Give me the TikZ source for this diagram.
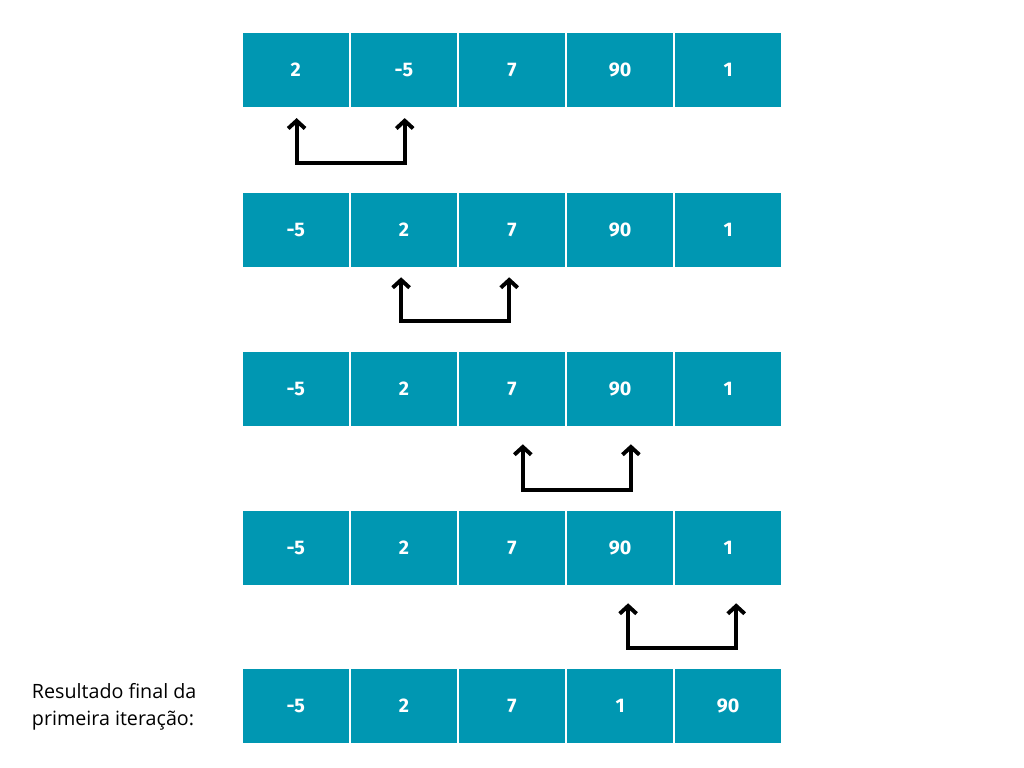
\documentclass[tikz,border=0pt]{standalone}
\usepackage{fontspec}
\setmainfont{Open Sans}
\newfontfamily\numfont{Fira Sans}
\usetikzlibrary{arrows.meta,positioning}
\definecolor{cellteal}{HTML}{0097B2}
\tikzset{
  cell/.style={fill=cellteal, text=white, font=\numfont\bfseries\fontsize{14}{16}\selectfont,
    minimum width=2.64cm, minimum height=1.85cm, inner sep=0pt},
  swapline/.style={line width=2.8pt, line cap=rect},
  swap/.style={line width=2.8pt, -{Straight Barb[length=5.5pt,width=12pt,line width=2.8pt]}}
}
\begin{document}
\begin{tikzpicture}[x=0.025cm, y=-0.025cm]
  \useasboundingbox (0,0) rectangle (1024,768);
  % rows of the array
  \foreach \r/\yy/\vals in {1/70/{2,-5,7,90,1}, 2/230/{-5,2,7,90,1}, 3/389/{-5,2,7,90,1},
                            4/548/{-5,2,7,90,1}, 5/706/{-5,2,7,1,90}} {
    \foreach \v [count=\c] in \vals {
      \node[cell] (r\r c\c) at ({295.8+108.1*(\c-1)},\yy) {\v};
    }
  }
  % swaps
  \foreach \r/\a/\b/\dx/\low/\top in {1/1/2/0.02/1.4/0.27, 2/2/3/-0.07/1.35/0.25,
                                     3/3/4/0.27/1.6/0.45, 4/4/5/0.2/1.575/0.45} {
    \coordinate (p) at ([xshift=\dx cm, yshift=-\low cm]r\r c\a.south);
    \coordinate (q) at ([xshift=\dx cm, yshift=-\low cm]r\r c\b.south);
    \draw[swapline] (p) -- (q);
    \draw[swap] (p) -- ([yshift=-\top cm]r\r c\a.south -| p);
    \draw[swap] (q) -- ([yshift=-\top cm]r\r c\b.south -| q);
  }
  \node[anchor=west, align=left, font=\fontsize{14}{19}\selectfont] (caption) at (27,707)
    {Resultado final da\\primeira iteração:};
\end{tikzpicture}
\end{document}
